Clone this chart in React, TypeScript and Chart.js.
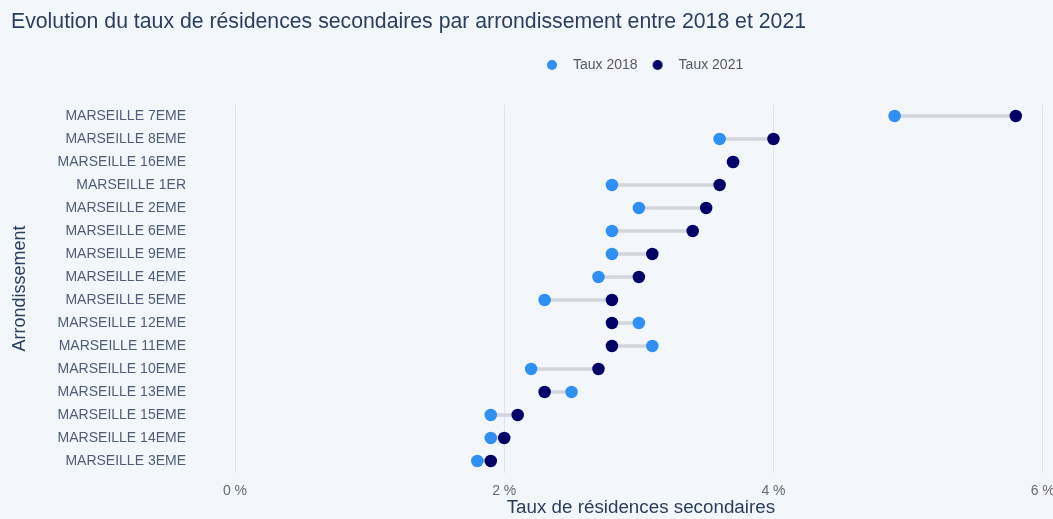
import React, { useEffect, useRef } from 'react';
import { Chart, registerables } from 'chart.js';

Chart.register(...registerables);

// ---------- data ----------
const categories = [
  'MARSEILLE 7EME',
  'MARSEILLE 8EME',
  'MARSEILLE 16EME',
  'MARSEILLE 1ER',
  'MARSEILLE 2EME',
  'MARSEILLE 6EME',
  'MARSEILLE 9EME',
  'MARSEILLE 4EME',
  'MARSEILLE 5EME',
  'MARSEILLE 12EME',
  'MARSEILLE 11EME',
  'MARSEILLE 10EME',
  'MARSEILLE 13EME',
  'MARSEILLE 15EME',
  'MARSEILLE 14EME',
  'MARSEILLE 3EME',
];
const taux2018 = [4.9, 3.6, 3.7, 2.8, 3.0, 2.8, 2.8, 2.7, 2.3, 3.0, 3.1, 2.2, 2.5, 1.9, 1.9, 1.8];
const taux2021 = [5.8, 4.0, 3.7, 3.6, 3.5, 3.4, 3.1, 3.0, 2.8, 2.8, 2.8, 2.7, 2.3, 2.1, 2.0, 1.9];
const xTicks = [0, 2, 4, 6];
const seriesLabels = ['Taux 2018', 'Taux 2021'];
const titleText = 'Evolution du taux de résidences secondaires par arrondissement entre 2018 et 2021';
const xTitle = 'Taux de résidences secondaires';
const yTitle = 'Arrondissement';

// ---------- style ----------
const BG = '#f3f6fb';
const COLOR_2018 = '#2f8ff2';
const COLOR_2021 = '#000066';
const CONNECTOR = '#d3d5dc';
const GRID = '#dfe3ea';
const FONT = "'Liberation Sans', Arial, sans-serif";

function makeLegendDot(color: string): HTMLCanvasElement {
  const c = document.createElement('canvas');
  c.width = 28;
  c.height = 14;
  const ctx = c.getContext('2d')!;
  ctx.fillStyle = color;
  ctx.beginPath();
  ctx.arc(7, 7, 5, 0, Math.PI * 2);
  ctx.fill();
  return c;
}

const legendPlace = {
  id: 'legendPlace',
  afterLayout(chart: any) {
    const lg = chart.legend;
    if (!lg || !lg.lineWidths) return;
    const pad = lg.options.labels.padding;
    const cursor = (lg.left + pad + lg.right - lg.lineWidths[0]) / 2;
    const dx = 552 - cursor;
    lg.left += dx;
    lg.right += dx;
  },
};

export default function App() {
  const ref = useRef<HTMLCanvasElement>(null);

  useEffect(() => {
    document.body.style.margin = '0';
    document.body.style.background = BG;
    const icons = [makeLegendDot(COLOR_2018), makeLegendDot(COLOR_2021)];

    const chart = new Chart(ref.current as HTMLCanvasElement, {
      type: 'bar',
      data: {
        labels: categories,
        datasets: [
          {
            type: 'bar',
            label: 'connector',
            data: taux2018.map((v, i) => [v, taux2021[i]]) as any,
            backgroundColor: CONNECTOR,
            barThickness: 3,
            borderWidth: 0,
            indexAxis: 'y',
            order: 3,
          } as any,
          {
            type: 'line',
            label: seriesLabels[0],
            data: taux2018,
            indexAxis: 'y',
            showLine: false,
            pointRadius: 6.25,
            pointHoverRadius: 6.25,
            pointBorderWidth: 0,
            pointBackgroundColor: COLOR_2018,
            backgroundColor: COLOR_2018,
            borderColor: COLOR_2018,
            order: 2,
          } as any,
          {
            type: 'line',
            label: seriesLabels[1],
            data: taux2021,
            indexAxis: 'y',
            showLine: false,
            pointRadius: 6.25,
            pointHoverRadius: 6.25,
            pointBorderWidth: 0,
            pointBackgroundColor: COLOR_2021,
            backgroundColor: COLOR_2021,
            borderColor: COLOR_2021,
            order: 1,
          } as any,
        ],
      },
      options: {
        responsive: false,
        animation: false,
        indexAxis: 'y',
        events: [],
        layout: { padding: { left: 11, right: 5, top: 0, bottom: 0 } },
        plugins: {
          tooltip: { enabled: false },
          title: {
            display: true,
            text: titleText,
            align: 'start',
            color: '#2a3f5f',
            font: { family: FONT, size: 21.25, weight: 'normal', lineHeight: 1.2 },
            padding: { top: 9, bottom: 3.5 },
          },
          subtitle: {
            display: true,
            text: '',
            weight: 500,
            position: 'top',
            padding: 0,
            font: { family: FONT, size: 10, lineHeight: 2.25 },
          } as any,
          legend: {
            display: true,
            position: 'top',
            align: 'center',
            labels: {
              usePointStyle: true,
              boxWidth: 14,
              boxHeight: 14,
              padding: 20,
              color: '#555a66',
              font: { family: FONT, size: 14 },
              generateLabels: (ch: any) => {
                const items = (Chart.defaults.plugins.legend.labels as any).generateLabels(ch);
                return items
                  .filter((it: any) => it.datasetIndex !== 0)
                  .sort((a: any, b: any) => a.datasetIndex - b.datasetIndex)
                  .map((it: any) => ({ ...it, pointStyle: icons[it.datasetIndex - 1] }));
              },
            },
          },
        },
        scales: {
          x: {
            type: 'linear',
            position: 'bottom',
            min: 0,
            max: 6.03,
            grid: { color: GRID, lineWidth: 1, drawTicks: false },
            border: { display: false },
            afterBuildTicks: (scale: any) => {
              scale.ticks = xTicks.map((v) => ({ value: v }));
            },
            ticks: {
              padding: 10,
              color: '#666b75',
              autoSkip: false,
              maxRotation: 0,
              font: { family: FONT, size: 14, lineHeight: 1.2 },
              callback: (v: any) => `${v} %`,
            },
            title: {
              display: true,
              text: xTitle,
              color: '#2a3f5f',
              font: { family: FONT, size: 18.8, lineHeight: 1 },
              padding: { top: 0, bottom: 1.5 },
            },
            afterFit: (scale: any) => {
              scale.height = 46.5;
              scale.paddingRight = 0;
            },
          } as any,
          y: {
            type: 'category',
            position: 'left',
            offset: true,
            grid: { display: false, drawTicks: false },
            border: { display: false },
            ticks: {
              padding: 49,
              autoSkip: false,
              color: '#4f5d78',
              font: { family: FONT, size: 14 },
            },
            title: {
              display: true,
              text: yTitle,
              color: '#2a3f5f',
              font: { family: FONT, size: 18, lineHeight: 1 },
              padding: { top: 0, bottom: 0 },
            },
            afterFit: (scale: any) => {
              scale.width = 224;
              scale.paddingTop = 0;
              scale.paddingBottom = 0;
            },
          } as any,
        },
      } as any,
      plugins: [legendPlace],
    });

    return () => chart.destroy();
  }, []);

  return (
    <div style={{ width: 1053, height: 519, background: BG }}>
      <canvas ref={ref} width={1053} height={519} style={{ display: 'block', width: 1053, height: 519 }} />
    </div>
  );
}
